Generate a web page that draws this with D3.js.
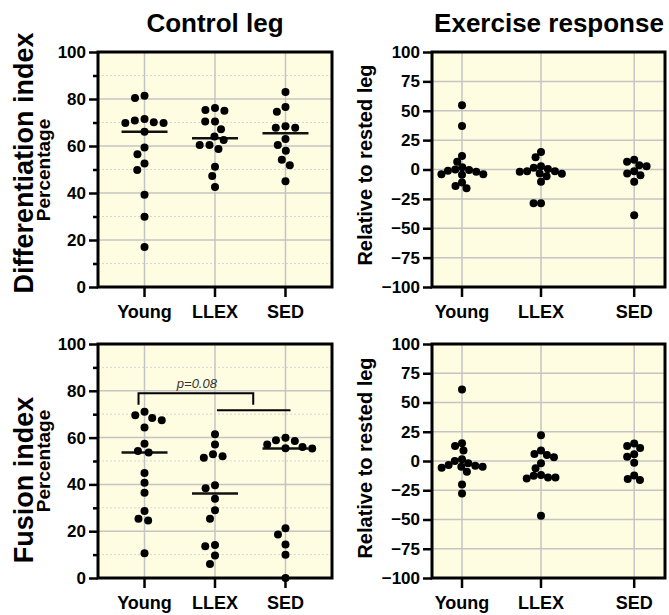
<!DOCTYPE html>
<html>
<head>
<meta charset="utf-8">
<script src="https://cdn.jsdelivr.net/npm/d3@7/dist/d3.min.js"></script>
<style>
  html, body { margin: 0; padding: 0; background: #ffffff; }
  svg { display: block; font-family: "Liberation Sans", Arial, sans-serif; }
</style>
</head>
<body>
<svg id="chart" width="669" height="615"></svg>
<script>
// ---- Data ----
const categories = ["Young", "LLEX", "SED"];

// Differentiation index, control leg (%)
const diffControlYoung = [81.4, 80.4, 71.5, 69.8, 69.8, 70.1, 70.9, 66.1, 59.4, 56.5, 52.6, 49.8, 39.3, 29.9, 17.0];
const diffControlLLEX  = [76.2, 75.0, 75.3, 70.4, 70.4, 67.1, 64.0, 62.6, 60.4, 58.7, 60.4, 51.2, 47.2, 42.6];
const diffControlSED   = [83.0, 76.6, 74.6, 67.8, 68.4, 67.8, 63.0, 60.4, 58.0, 54.2, 51.8, 45.0];

// Differentiation index, exercise response (relative to rested leg)
const diffExerciseYoung = [54.7, 37.0, 11.4, 6.6, 2.0, 0.0, -1.0, -2.0, -4.0, -4.5, -4.0, -0.5, -11.0, -14.0, -16.0];
const diffExerciseLLEX  = [14.8, 10.5, 2.8, 1.4, -1.4, -1.4, -3.4, -3.7, -5.7, -10.5, -28.8, -28.8, 0.5, -2.0];
const diffExerciseSED   = [8.3, 2.8, 3.7, 6.6, -4.8, -3.4, -1.4, -10.5, -39.0];

// Fusion index, control leg (%)
const fusionControlYoung = [71.0, 67.4, 68.4, 69.6, 64.3, 57.4, 54.3, 53.6, 44.9, 40.7, 36.4, 28.6, 25.3, 24.6, 10.6];
const fusionControlLLEX  = [61.4, 57.0, 52.9, 51.4, 52.0, 39.6, 38.4, 33.9, 28.9, 25.3, 13.6, 14.1, 9.6, 6.0];
const fusionControlSED   = [59.9, 58.9, 57.0, 58.6, 56.0, 55.3, 55.4, 21.3, 18.6, 14.3, 9.9, 0.0];

// Fusion index, exercise response (relative to rested leg)
const fusionExerciseYoung = [61.1, 15.1, 12.9, 8.9, 1.4, 0.0, -2.0, -3.5, -4.0, -4.9, -4.9, -5.7, -9.1, -20.0, -27.7];
const fusionExerciseLLEX  = [22.0, 8.9, 6.0, 5.1, 3.1, -2.0, -6.3, -12.0, -12.6, -14.0, -14.0, -14.9, -46.9];
const fusionExerciseSED   = [14.9, 12.9, 11.1, 5.7, 3.7, -1.4, -12.3, -15.4, -16.3];

// Tick values
const pctMajorTicks = [0, 20, 40, 60, 80, 100];
const pctMinorTicks = [10, 30, 50, 70, 90];
const relTicks = [-100, -75, -50, -25, 0, 25, 50, 75, 100];

// Young vs. (LLEX + SED) comparison for fusion, control leg
const fusionComparisonLabel = "p=0.08";
const fusionBracketTop = 79;
const fusionBracketLeg = 74;
const fusionGroupLine = 71.7;

// ---- Layout ----
const svg = d3.select("#chart");
const FONT = "'Liberation Sans', Arial, sans-serif";
const BG = "#fffde1";
const GRID = "#c4c4c4";

const panels = [
  { x: 98,  y: 52,  w: 234, h: 235, kind: "pct", series: [diffControlYoung, diffControlLLEX, diffControlSED], median: true },
  { x: 432, y: 52,  w: 233, h: 235, kind: "rel", series: [diffExerciseYoung, diffExerciseLLEX, diffExerciseSED], median: false },
  { x: 98,  y: 344, w: 234, h: 234, kind: "pct", series: [fusionControlYoung, fusionControlLLEX, fusionControlSED], median: true, bracket: true },
  { x: 432, y: 344, w: 233, h: 234, kind: "rel", series: [fusionExerciseYoung, fusionExerciseLLEX, fusionExerciseSED], median: false }
];

// Group slot positions in the exercise-response panels (SED sits further right)
const exerciseSlot = { Young: 0, LLEX: 1, SED: 2.18 };

// Simple beeswarm: each point takes the smallest horizontal offset that avoids overlap
function swarmOffsets(vals, yScale, minDist) {
  const order = d3.range(vals.length).sort((a, b) => d3.descending(vals[a], vals[b]));
  const placed = [];
  const out = new Array(vals.length);
  order.forEach(i => {
    const py = yScale(vals[i]);
    const cands = [0];
    placed.forEach(p => {
      const dy = Math.abs(p.y - py);
      if (dy < minDist) {
        const dx = Math.sqrt(minDist * minDist - dy * dy) + 0.01;
        cands.push(p.x + dx, p.x - dx);
      }
    });
    cands.sort((a, b) => Math.abs(a) - Math.abs(b) || a - b);
    const ok = cands.find(c => placed.every(p => (p.x - c) ** 2 + (p.y - py) ** 2 >= minDist * minDist - 0.02));
    placed.push({ x: ok, y: py });
    out[i] = ok;
  });
  return out;
}

panels.forEach(P => {
  const g = svg.append("g").attr("transform", `translate(${P.x},${P.y})`);

  const y = d3.scaleLinear()
    .domain(P.kind === "pct" ? [0, 100] : [-100, 100])
    .range([P.h, 0]);

  let xPos;
  if (P.kind === "pct") {
    const xp = d3.scalePoint().domain(categories).range([0, P.w]).padding(0.66);
    xPos = c => xp(c);
  } else {
    const xl = d3.scaleLinear().domain([-0.38, 2.57]).range([0, P.w]);
    xPos = c => xl(exerciseSlot[c]);
  }

  // background
  g.append("rect").attr("width", P.w).attr("height", P.h).attr("fill", BG);

  // horizontal grid
  if (P.kind === "pct") {
    g.selectAll(".minor").data(pctMinorTicks).join("line")
      .attr("x1", 0).attr("x2", P.w)
      .attr("y1", d => y(d)).attr("y2", d => y(d))
      .attr("stroke", "#d6d6d6").attr("stroke-width", 1).attr("stroke-dasharray", "2,2");
    g.selectAll(".major").data(pctMajorTicks).join("line")
      .attr("x1", 0).attr("x2", P.w)
      .attr("y1", d => y(d)).attr("y2", d => y(d))
      .attr("stroke", GRID).attr("stroke-width", 1.5);
  } else {
    g.selectAll(".major").data(relTicks).join("line")
      .attr("x1", 0).attr("x2", P.w)
      .attr("y1", d => y(d)).attr("y2", d => y(d))
      .attr("stroke", GRID).attr("stroke-width", 1.5);
  }
  // vertical grid at groups
  g.selectAll(".vgrid").data(categories).join("line")
    .attr("x1", d => xPos(d)).attr("x2", d => xPos(d))
    .attr("y1", 0).attr("y2", P.h)
    .attr("stroke", GRID).attr("stroke-width", 1.5);

  // frame
  g.append("rect").attr("width", P.w).attr("height", P.h)
    .attr("fill", "none").attr("stroke", "#000").attr("stroke-width", 3);

  // y axis
  const yAxis = d3.axisLeft(y)
    .tickValues(P.kind === "pct" ? pctMajorTicks : relTicks)
    .tickSize(9).tickPadding(3).tickFormat(d3.format("d"));
  const ya = g.append("g").call(yAxis);
  ya.select(".domain").remove();
  ya.selectAll(".tick line").attr("stroke", "#000").attr("stroke-width", 2.5);
  ya.selectAll(".tick text").attr("font-family", FONT).attr("font-size", 17)
    .attr("font-weight", "bold").attr("fill", "#000");
  if (P.kind === "pct") {
    const ym = g.append("g").call(d3.axisLeft(y).tickValues(pctMinorTicks).tickSize(5).tickFormat(""));
    ym.select(".domain").remove();
    ym.selectAll(".tick line").attr("stroke", "#000").attr("stroke-width", 2.5);
  }

  // x axis
  const xa = g.append("g").attr("transform", `translate(0,${P.h})`);
  const xt = xa.selectAll(".xt").data(categories).join("g")
    .attr("transform", d => `translate(${xPos(d)},0)`);
  xt.append("line").attr("y1", 0).attr("y2", 10).attr("stroke", "#000").attr("stroke-width", 2.5);
  xt.append("text").attr("y", 31).attr("text-anchor", "middle")
    .attr("font-family", FONT).attr("font-size", 18).attr("font-weight", "bold")
    .text(d => d);

  // comparison bracket
  if (P.bracket) {
    const xl = xPos("Young") - 6;
    const xr = (xPos("LLEX") + xPos("SED")) / 2 + 3;
    g.append("path")
      .attr("d", `M${xl},${y(fusionBracketLeg)}V${y(fusionBracketTop)}H${xr}V${y(fusionBracketLeg)}`)
      .attr("fill", "none").attr("stroke", "#000").attr("stroke-width", 2);
    g.append("line")
      .attr("x1", xPos("LLEX") + 2).attr("x2", xPos("SED") + 5)
      .attr("y1", y(fusionGroupLine)).attr("y2", y(fusionGroupLine))
      .attr("stroke", "#000").attr("stroke-width", 2);
    g.append("text")
      .attr("x", (xl + xr) / 2 + 1).attr("y", y(fusionBracketTop) - 5)
      .attr("text-anchor", "middle").attr("font-family", FONT)
      .attr("font-size", 13).attr("font-style", "italic").attr("fill", "#333")
      .text(fusionComparisonLabel);
  }

  // medians
  if (P.median) {
    P.series.forEach((vals, i) => {
      const cx = xPos(categories[i]);
      const m = d3.median(vals);
      g.append("line")
        .attr("x1", cx - 23).attr("x2", cx + 23)
        .attr("y1", y(m)).attr("y2", y(m))
        .attr("stroke", "#111").attr("stroke-width", 2.5);
    });
  }

  // points
  const minDist = P.kind === "pct" ? 9.8 : 7.4;
  P.series.forEach((vals, i) => {
    const cx = xPos(categories[i]);
    const offs = swarmOffsets(vals, y, minDist);
    g.selectAll(null).data(vals).join("circle")
      .attr("cx", (d, j) => cx + offs[j])
      .attr("cy", d => y(d))
      .attr("r", 4)
      .attr("fill", "#000");
  });
});

// ---- Titles and axis labels ----
svg.append("text").attr("x", 215).attr("y", 32).attr("text-anchor", "middle")
  .attr("font-family", FONT).attr("font-size", 26).attr("font-weight", "bold").text("Control leg");
svg.append("text").attr("x", 549).attr("y", 32).attr("text-anchor", "middle")
  .attr("font-family", FONT).attr("font-size", 26).attr("font-weight", "bold").text("Exercise response");

function vLabel(x, y, txt, size) {
  svg.append("text").attr("transform", `translate(${x},${y}) rotate(-90)`)
    .attr("text-anchor", "middle").attr("font-family", FONT)
    .attr("font-size", size).attr("font-weight", "bold").text(txt);
}
vLabel(33, 163, "Differentiation index", 27);
vLabel(50, 170, "Percentage", 19);
vLabel(33, 480, "Fusion index", 27);
vLabel(50, 461, "Percentage", 19);
vLabel(372, 165, "Relative to rested leg", 20);
vLabel(372, 458, "Relative to rested leg", 20);
</script>
</body>
</html>
